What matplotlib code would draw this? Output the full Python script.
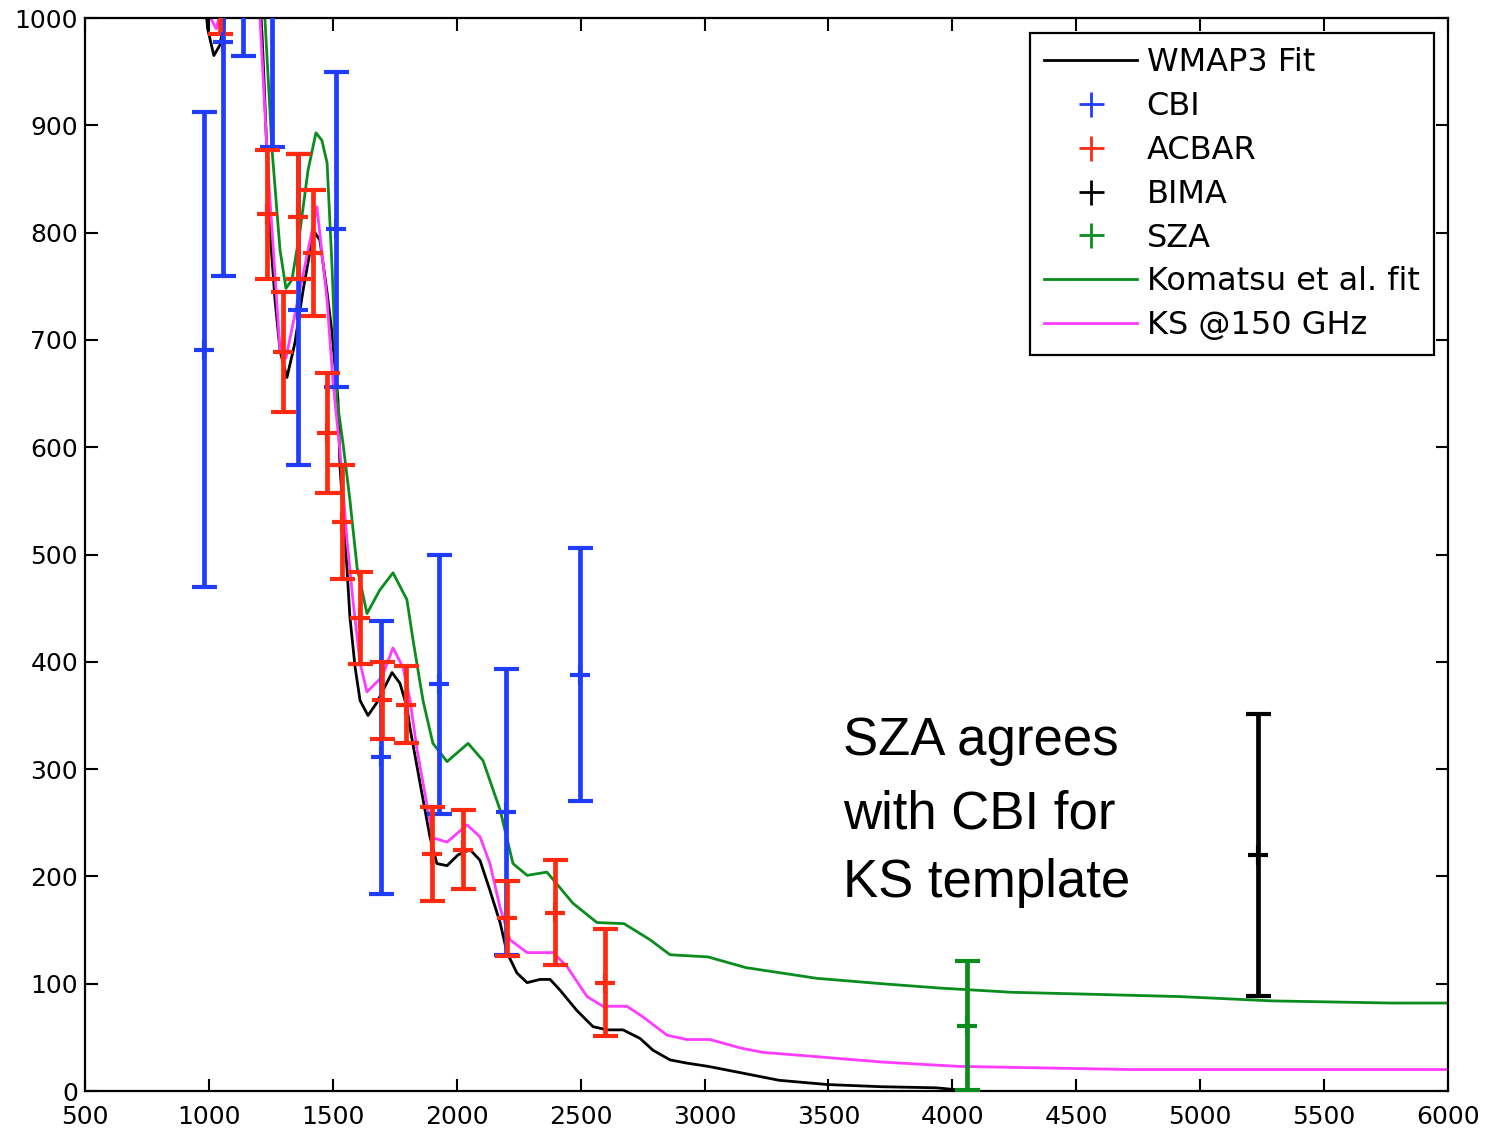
import numpy as np
import matplotlib
matplotlib.use("Agg")
import matplotlib.pyplot as plt
from matplotlib.lines import Line2D

# model curves (multipole l, power)
wmap_l = [960, 995, 1020, 1045, 1070, 1130, 1190, 1214, 1222, 1247, 1267, 1287, 1315, 1347, 1380,
          1416, 1428, 1448, 1477, 1497, 1521, 1529, 1557, 1569, 1590, 1610, 1642, 1678, 1739,
          1771, 1799, 1811, 1852, 1892, 1920, 1961, 2005, 2054, 2094, 2134, 2175, 2203, 2243,
          2284, 2336, 2377, 2417, 2485, 2550, 2607, 2671, 2740, 2792, 2861, 2929, 3014, 3147,
          3301, 3498, 3716, 3934, 4071]
wmap_c = [1080, 990, 965, 975, 1010, 1150, 1080, 986, 945, 800, 737, 690, 665, 697, 746,
          793, 800, 793, 744, 706, 644, 582, 488, 442, 395, 364, 350, 362, 390,
          380, 358, 339, 287, 237, 212, 210, 220, 225, 215, 187, 157, 129, 110,
          101, 104, 104, 94, 75, 60, 57, 57, 49, 38, 29, 26, 23, 17,
          10, 6, 4, 3, 0]

komatsu_l = [1214, 1226, 1255, 1287, 1311, 1335, 1368, 1400, 1432, 1456, 1477, 1497, 1517, 1541,
             1569, 1598, 1638, 1690, 1743, 1799, 1824, 1864, 1904, 1961, 2046, 2106, 2175, 2227,
             2284, 2364, 2469, 2566, 2675, 2780, 2861, 3014, 3167, 3454, 3716, 3946, 4241, 4592,
             4919, 5290, 5770, 6000]
komatsu_c = [1080, 1000, 877, 784, 748, 756, 802, 858, 893, 886, 865, 768, 644, 604,
             551, 488, 445, 467, 483, 458, 420, 364, 324, 307, 324, 308, 262, 212,
             201, 204, 175, 157, 156, 141, 127, 125, 115, 105, 100, 96, 92, 90,
             88, 84, 82, 82]

ks_l = [960, 1000, 1030, 1060, 1130, 1206, 1238, 1287, 1311, 1436, 1477, 1501, 1529, 1557, 1581,
        1610, 1638, 1699, 1743, 1783, 1812, 1840, 1904, 1961, 2042, 2094, 2134, 2175, 2215,
        2284, 2389, 2445, 2526, 2590, 2687, 2752, 2849, 2929, 3022, 3147, 3236, 3454, 3716,
        4023, 4721, 6000]
ks_c = [1040, 1003, 990, 1020, 1200, 1001, 861, 690, 683, 824, 737, 660, 597, 514, 458,
        399, 372, 386, 413, 395, 364, 318, 236, 232, 248, 237, 212, 171, 141,
        129, 129, 116, 88, 79, 79, 69, 52, 48, 48, 40, 36, 32, 27,
        23, 20, 20]

# data points
cbi_l = [980, 1057, 1138, 1255, 1360, 1513, 1695, 1929, 2199, 2497]
cbi_c = [691, 978, 1120, 1050, 728, 803, 311, 379, 260, 388]
cbi_e = [221, 218, 155, 170, 145, 147, 127, 121, 133, 118]

acbar_l = [1045, 1236, 1300, 1360, 1420, 1477, 1537, 1610, 1699, 1795, 1900, 2025, 2203, 2397, 2598]
acbar_c = [1020, 817, 689, 815, 781, 613, 530, 441, 364, 360, 221, 225, 161, 166, 101]
acbar_e = [35, 60, 56, 58, 59, 56, 53, 43, 36, 36, 44, 37, 35, 49, 50]

bima_l = [5234]
bima_c = [220]
bima_e = [131]

sza_l = [4059]
sza_c = [61]
sza_e = [60]

note = ['SZA agrees', 'with CBI for', 'KS template']

blue = '#1f3cff'
red = '#ff2a10'
green = '#0a8c1e'
magenta = '#ff3cff'

fig = plt.figure(figsize=(14.96, 11.34), dpi=100)
ax = fig.add_axes([0.0568, 0.0379, 0.9111, 0.9462])

ax.plot(wmap_l, wmap_c, color='black', lw=2.0, zorder=2)
ax.plot(komatsu_l, komatsu_c, color=green, lw=2.0, zorder=2)
ax.plot(ks_l, ks_c, color=magenta, lw=2.0, zorder=2)

eb = dict(fmt='+', markersize=14, mew=3, elinewidth=3.4, capsize=9, capthick=3, zorder=3)
ax.errorbar(cbi_l, cbi_c, yerr=cbi_e, color=blue, **eb)
ax.errorbar(acbar_l, acbar_c, yerr=acbar_e, color=red, **eb)
ax.errorbar(bima_l, bima_c, yerr=bima_e, color='black', **eb)
ax.errorbar(sza_l, sza_c, yerr=sza_e, color=green, **eb)

ax.set_xlim(500, 6000)
ax.set_ylim(0, 1000)
ax.set_xticks(np.arange(500, 6001, 500))
ax.set_yticks(np.arange(0, 1001, 100))
ax.tick_params(direction='in', top=True, right=True, length=9, width=1.5,
               labelsize=18)
ax.tick_params(axis='x', pad=10)
ax.tick_params(axis='y', pad=5)
for s in ax.spines.values():
    s.set_linewidth(1.6)

handles = [
    Line2D([], [], color='black', lw=2),
    Line2D([], [], color=blue, ls='none', marker='+', markersize=18, mew=2),
    Line2D([], [], color=red, ls='none', marker='+', markersize=18, mew=2),
    Line2D([], [], color='black', ls='none', marker='+', markersize=18, mew=2),
    Line2D([], [], color=green, ls='none', marker='+', markersize=18, mew=2),
    Line2D([], [], color=green, lw=2),
    Line2D([], [], color=magenta, lw=2),
]
labels = ['WMAP3 Fit', 'CBI', 'ACBAR', 'BIMA', 'SZA', 'Komatsu et al. fit', 'KS @150 GHz']
leg = ax.legend(handles, labels, loc='upper right', bbox_to_anchor=(0.9897, 0.986),
                borderaxespad=0, fontsize=23, handlelength=2.9, handletextpad=0.3,
                labelspacing=0.4, borderpad=0.45, fancybox=False, framealpha=1,
                edgecolor='black')
leg.get_frame().set_linewidth(1.6)

# annotation, one line per text at the reference baselines
for line, yb in zip(note, [0.313, 0.245, 0.181]):
    ax.text(0.556, yb, line, transform=ax.transAxes, fontsize=38,
            family='Liberation Sans', va='baseline', ha='left')

fig.savefig('out.png', dpi=100)
